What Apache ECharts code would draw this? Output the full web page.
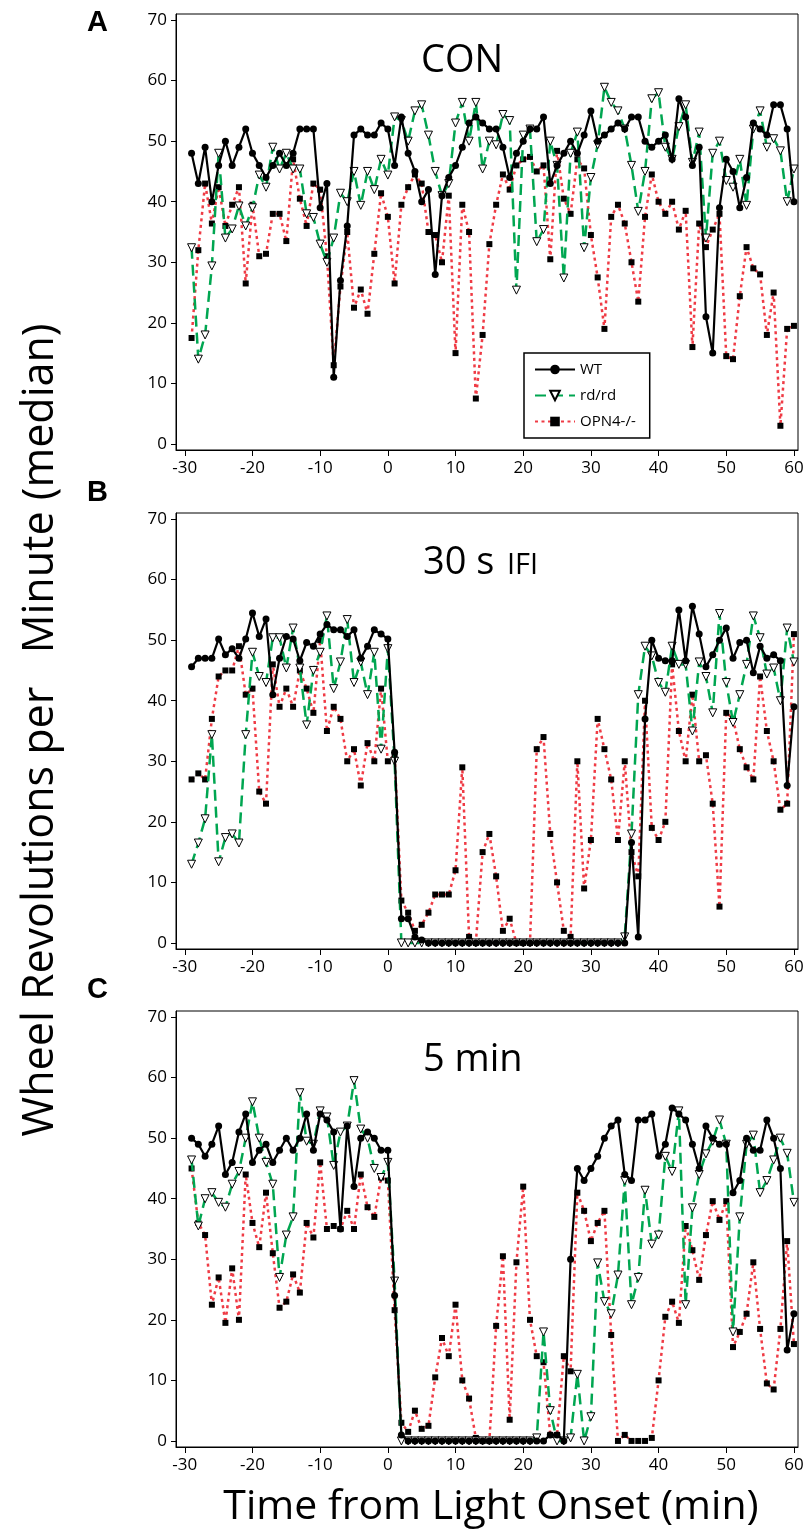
<!DOCTYPE html>
<html>
<head>
<meta charset="utf-8">
<script src="https://cdn.jsdelivr.net/npm/echarts@6/dist/echarts.min.js"></script>
<style>
html,body{margin:0;padding:0;background:#fff;}
#chart{width:809px;height:1533px;}
</style>
</head>
<body>
<div id="chart"></div>
<script>
const minutes = [-29,-28,-27,-26,-25,-24,-23,-22,-21,-20,-19,-18,-17,-16,-15,-14,-13,-12,-11,-10,-9,-8,-7,-6,-5,-4,-3,-2,-1,0,1,2,3,4,5,6,7,8,9,10,11,12,13,14,15,16,17,18,19,20,21,22,23,24,25,26,27,28,29,30,31,32,33,34,35,36,37,38,39,40,41,42,43,44,45,46,47,48,49,50,51,52,53,54,55,56,57,58,59,60];
const xTicks = [-30,-20,-10,0,10,20,30,40,50,60];
const yTicks = [0,10,20,30,40,50,60,70];
const seriesNames = ['WT','rd/rd','OPN4-/-'];
const panelLetters = ['A','B','C'];
const panelTitles = ['CON','30 s','5 min'];

// Panel A (CON)
const conWT = [48,43,49,40,46,50,46,49,52,48,46,44,46,48,46,48,52,52,52,39,43,11,27,36,51,52,51,51,53,52,
  46,54,48,45,40,42,28,41,44,46,49,53,54,53,52,52,49,44,48,50,52,52,54,43,46,48,50,48,51,55,
  50,51,52,53,52,54,54,50,49,50,51,47,57,54,46,49,21,15,39,47,45,39,44,53,52,51,56,56,52,40];
const conRd = [32.4,14,18,29.4,48,34,35.5,39.3,36,39,44.4,42.4,49,45.4,48,45.4,45.4,38,37.4,33,30,34,41.4,40,45,39.4,45,42,47,44.4,
  54,53.4,50,55,56,51,45,41,43,53,56.4,50,56.4,45.4,50,49.4,54.4,53.4,25.4,51,52,33.4,35.4,50,46,27.4,48,51.5,32.4,44,
  49.4,58.9,56.4,55,52,46,38.4,45,57,58,49,47,52.4,56,46.5,51.5,34,48,50,43.5,42.4,47,39.4,52,55,49,50.4,48.4,40,45.4];
const conOpn = [17.5,32,43,36.4,42.4,36,39.5,42.4,26.5,39.5,31,31.4,38,38,33.5,47,40.5,36,43,42,31,13,26,35,22.5,25.5,21.5,31.4,41.4,37.5,
  26.5,39.5,42.4,44.5,43,35,34.5,30,41,15,39.5,35,7.5,18,33,39.5,44.5,42,46,47,47.4,45,46,30.5,48.4,40.5,38,47,45.5,34.5,
  27.5,19,37.5,39.5,36.4,30,23.5,37.5,44.5,40,38,40,35.4,38.5,16,36.4,32.5,35.4,38,14.5,14,24.4,32.5,29,28,18,25,3,19,19.5];

// Panel B (30 s IFI)
const ifiWT = [45.6,47,47,47,50.2,47.6,48.6,47,50.2,54.5,50.6,53.5,41,47,50.6,50.2,46.6,49.6,49,51,52.6,51.7,51.7,50.6,51.7,47,49,51.7,51,50.2,
  31.5,4,4,1,0.5,0,0,0,0,0,0,0,0,0,0,0,0,0,0,0,0,0,0,0,0,0,0,0,0,0,
  0,0,0,0,0,16.6,1,37,50,47,46.6,46.6,55,46.6,55.6,51,45.6,47.6,50,52,47,49.6,50,44.6,49,47,47.6,46.6,26,39];
const ifiRd = [13,16.5,20.5,34.4,13.4,17.4,18,16.5,34.4,48,44,43,50.4,50.4,45.4,52,45.4,36,45,48,54,42,46.4,53.4,43,46.4,41,48,32,48.6,
  30,0,0,0,0,0,0,0,0,0,0,0,0,0,0,0,0,0,0,0,0,0,0,0,0,0,0,0,0,0,
  0,0,0,0,1,18,41,49,47.4,43,41.4,49,46,46,35,46.4,44,38,54.4,43,36.4,41,46,54,50.4,44.4,45.4,40,52,46.4];
const ifiOpn = [27,28,27,37,44,45,45,49,41,42,25,23,46,39,42,39,45,42,38,50,35,39,37,30,32,26,33,30,42,30,
  31,7,5,2,3,5,8,8,8,12,29,1,0,15,18,11,2,4,0,0,0,32,34,18,10,2,1,30,9,17,
  37,32,27,17,30,15,11,40,19,17,20,46,35,30,41,30,31,23,6,38,37,32,29,27,44,35,30,22,23,51];

// Panel C (5 min)
const minWT = [50,49,47,49,52,44,46,51,54,46,48,49,46,48,50,48,50,54,48,54,53,51,35,52,42,50,51,50,48,48,
  24,1,0,0,0,0,0,0,0,0,0,0,0,0,0,0,0,0,0,0,0,0,0,1,1,0,30,45,43,45,
  47,50,52,53,44,43,53,53,54,47,49,55,54,53,49,45,52,50,49,49,41,43,50,48,48,53,50,45,15,21];
const minRd = [46.4,35.5,40,41,39.4,38.6,42.4,44.5,50,56,50,46,42.4,27,34,37,57.5,49.5,49,54.5,53.5,45.5,51,52,59.5,51.5,50,45,43.5,46,
  26.4,0,0,0,0,0,0,0,0,0,0,0,0,0,0,0,0,0,0,0,0,0.5,18,5,0,0,0.5,11,0,4,
  29.4,23,21,27.4,43,22.5,27,41.4,32.5,34,47,44.5,54.5,22.5,38.5,44,47.4,49.5,53,49,18,37,49,50.5,41,43,46.4,50,47.5,39.4];
const minOpn = [45,36,34,22.5,27,19.5,28.5,20,44,36,32,41,31,22,23,27.5,24.5,36,33.6,46,35,35.5,35,38,35,44,38.6,37,43.5,43,
  21.6,3,1.5,5,2,2.5,10.5,17,14,22.5,10,7,0.5,0,0,19,30.5,3.5,29.5,42,20,14,13,1,1,14,11.5,41,38,33,
  36,38,17.5,0,1,0,0,0,0.5,10,20.5,23,19.5,35.5,31.5,26.6,34,39.6,36.5,39.6,15.5,18,21,29.5,18.5,9.5,8.5,18.5,33,16];

const panels = [
  {wt: conWT, rd: conRd, opn: conOpn},
  {wt: ifiWT, rd: ifiRd, opn: ifiOpn},
  {wt: minWT, rd: minRd, opn: minOpn}
];

const gridTops = [14, 513, 1011];
const FONT = '"Open Sans", "Noto Sans", sans-serif';
const GREEN = '#00a651';
const RED = '#ef3b45';

const pairs = vals => minutes.map((m, i) => [m, vals[i]]);

const grids = [], xAxes = [], yAxes = [], series = [];
panels.forEach((p, k) => {
  grids.push({left: 176, width: 622, top: gridTops[k], height: 436, show: true, borderColor: '#000', borderWidth: 1, backgroundColor: 'transparent'});
  xAxes.push({
    type: 'value', gridIndex: k, min: -31.3, max: 60.6,
    axisLine: {show: true, onZero: false, lineStyle: {color: '#000', width: 1}},
    axisTick: {show: true, inside: false, length: 6, customValues: xTicks, lineStyle: {color: '#000', width: 1}},
    axisLabel: {show: true, customValues: xTicks, margin: 10, fontSize: 17, color: '#000', fontFamily: FONT},
    splitLine: {show: false}
  });
  yAxes.push({
    type: 'value', gridIndex: k, min: -1, max: 71,
    axisLine: {show: true, onZero: false, lineStyle: {color: '#000', width: 1}},
    axisTick: {show: true, inside: false, length: 5, customValues: yTicks, lineStyle: {color: '#000', width: 1}},
    axisLabel: {show: true, customValues: yTicks, margin: 9, fontSize: 17, color: '#000', fontFamily: FONT},
    splitLine: {show: false}
  });
  series.push({
    name: 'OPN4-/-', type: 'line', xAxisIndex: k, yAxisIndex: k, data: pairs(p.opn),
    symbol: 'rect', symbolSize: 6, showSymbol: true,
    itemStyle: {color: '#000'},
    lineStyle: {color: RED, width: 2.5, type: [3, 3.5]},
    z: 2
  });
  series.push({
    name: 'rd/rd', type: 'line', xAxisIndex: k, yAxisIndex: k, data: pairs(p.rd),
    symbol: 'triangle', symbolRotate: 180, symbolSize: 8, showSymbol: true,
    itemStyle: {color: '#fff', borderColor: '#000', borderWidth: 1},
    lineStyle: {color: GREEN, width: 2.5, type: [11, 6]},
    z: 3
  });
  series.push({
    name: 'WT', type: 'line', xAxisIndex: k, yAxisIndex: k, data: pairs(p.wt),
    symbol: 'circle', symbolSize: 7, showSymbol: true,
    itemStyle: {color: '#000'},
    lineStyle: {color: '#000', width: 2.2},
    z: 4
  });
});

const graphics = [
  {type: 'text', left: 87, top: 8, style: {text: panelLetters[0], font: 'bold 29px "Liberation Sans", Arial, sans-serif', fill: '#000'}},
  {type: 'text', left: 87, top: 478, style: {text: panelLetters[1], font: 'bold 29px "Liberation Sans", Arial, sans-serif', fill: '#000'}},
  {type: 'text', left: 87, top: 975, style: {text: panelLetters[2], font: 'bold 29px "Liberation Sans", Arial, sans-serif', fill: '#000'}},
  {type: 'text', left: 421, top: 42, style: {text: panelTitles[0], font: '38px ' + FONT, fill: '#000'}},
  {type: 'text', left: 423, top: 544, style: {text: panelTitles[1], font: '38px ' + FONT, fill: '#000'}},
  {type: 'text', left: 507, top: 551, style: {text: 'IFI', font: '29px ' + FONT, fill: '#000'}},
  {type: 'text', left: 423, top: 1041, style: {text: panelTitles[2], font: '38px ' + FONT, fill: '#000'}},
  {type: 'text', x: 41, y: 730, rotation: Math.PI / 2,
    style: {text: 'Wheel Revolutions per   Minute (median)', font: '43px ' + FONT, fill: '#000', align: 'center', verticalAlign: 'middle'}},
  {type: 'text', x: 491, y: 1507,
    style: {text: 'Time from Light Onset (min)', font: '41px ' + FONT, fill: '#000', align: 'center', verticalAlign: 'middle'}}
];

const chart = echarts.init(document.getElementById('chart'), null, {renderer: 'canvas'});
chart.setOption({
  animation: false,
  backgroundColor: '#fff',
  grid: grids,
  xAxis: xAxes,
  yAxis: yAxes,
  series: series,
  legend: {
    data: seriesNames, orient: 'vertical', left: 524, top: 353,
    itemWidth: 40, itemHeight: 12, itemGap: 11,
    padding: [9, 14, 9, 10],
    borderColor: '#000', borderWidth: 1.5, backgroundColor: '#fff',
    textStyle: {fontSize: 15, color: '#000', fontFamily: FONT}
  },
  graphic: graphics
});
</script>
</body>
</html>
